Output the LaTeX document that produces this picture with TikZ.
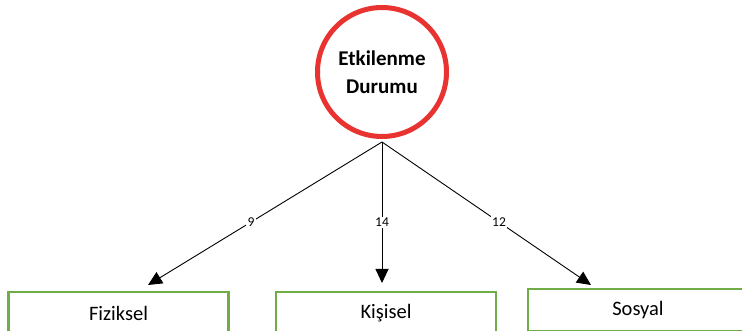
\documentclass[tikz,border=0pt]{standalone}
\usepackage{fontspec}
\setmainfont{Carlito}
\usetikzlibrary{arrows.meta}
\definecolor{circred}{HTML}{E83330}
\definecolor{boxgreen}{HTML}{70AD47}
\tikzset{
  box/.style={draw=boxgreen,line width=2.5pt,minimum width=220pt,minimum height=42pt,inner sep=0pt,font=\fontsize{20.5}{24}\selectfont},
  link/.style={line width=0.9pt,-{Triangle[length=14pt,width=13pt]}},
  num/.style={fill=white,inner sep=1.5pt,font=\fontsize{13.5}{15}\selectfont}
}
\begin{document}
\begin{tikzpicture}[x=1pt,y=-1pt]
    \useasboundingbox (0,0) rectangle (742,331);
    \clip (0,0) rectangle (742,331);
    \node[circle,draw=circred,line width=5pt,minimum size=129pt,inner sep=0pt,align=center,
      font=\bfseries\fontsize{21}{27.5}\selectfont] (durum) at (382,72) {Etkilenme\\Durumu};
    \coordinate (fork) at (382,142);
    \node[box] (fiziksel) at (118.5,313) {Fiziksel};
    \node[box] (kisisel) at (386,313) {Kişisel};
    \node[box] (sosyal) at (638,310) {Sosyal};
    \coordinate (tipF) at (148,285);
    \coordinate (tipK) at (382,283);
    \coordinate (tipS) at (591,285);
    \draw[link] (fork) -- node[num,pos=0.56] (n9) {9} (tipF);
    \draw[link] (fork) -- node[num,pos=0.57] (n14) {14} (tipK);
    \draw[link] (fork) -- node[num,pos=0.56] (n12) {12} (tipS);
\end{tikzpicture}
\end{document}
